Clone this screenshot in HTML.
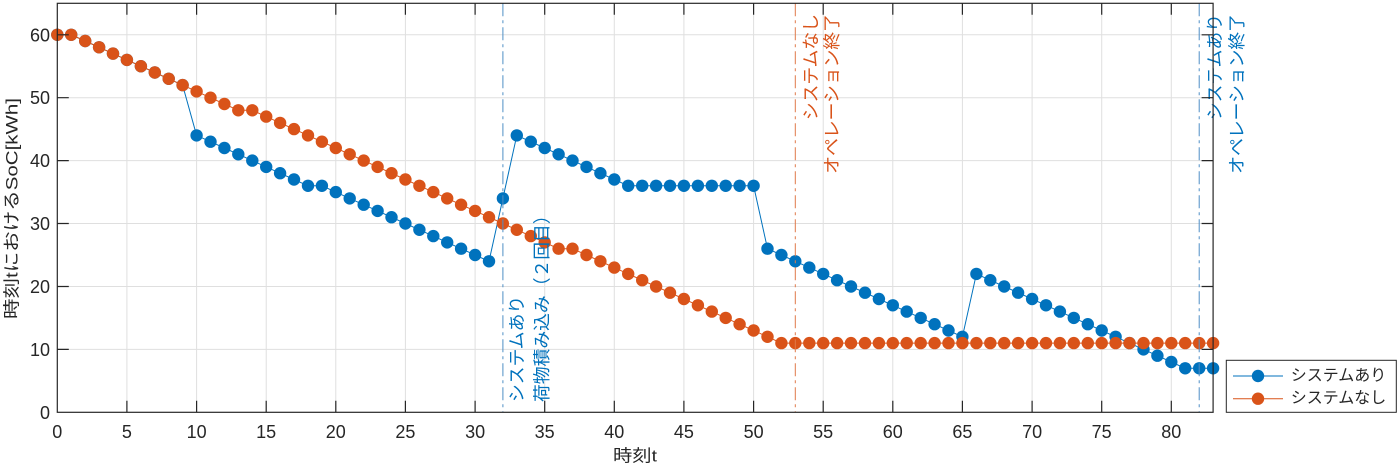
<!DOCTYPE html>
<html><head><meta charset="utf-8">
<style>
html,body{margin:0;padding:0;background:#fff;}
svg{display:block;}
text{font-family:"Liberation Sans","Noto Sans CJK JP",sans-serif;fill:#262626;}
</style></head>
<body>
<svg width="1398" height="465" viewBox="0 0 1398 465" xmlns="http://www.w3.org/2000/svg">
<rect x="0" y="0" width="1398" height="465" fill="#fff"/>
<rect x="57.3" y="3.3" width="1155.8" height="409" fill="#fff"/>
<!-- grid -->
<g stroke="#dfdfdf" stroke-width="1">
<line x1="126.9" y1="3.3" x2="126.9" y2="412.3"/><line x1="196.6" y1="3.3" x2="196.6" y2="412.3"/>
<line x1="266.2" y1="3.3" x2="266.2" y2="412.3"/><line x1="335.8" y1="3.3" x2="335.8" y2="412.3"/>
<line x1="405.4" y1="3.3" x2="405.4" y2="412.3"/><line x1="475.1" y1="3.3" x2="475.1" y2="412.3"/>
<line x1="544.7" y1="3.3" x2="544.7" y2="412.3"/><line x1="614.3" y1="3.3" x2="614.3" y2="412.3"/>
<line x1="683.9" y1="3.3" x2="683.9" y2="412.3"/><line x1="753.6" y1="3.3" x2="753.6" y2="412.3"/>
<line x1="823.2" y1="3.3" x2="823.2" y2="412.3"/><line x1="892.8" y1="3.3" x2="892.8" y2="412.3"/>
<line x1="962.4" y1="3.3" x2="962.4" y2="412.3"/><line x1="1032.1" y1="3.3" x2="1032.1" y2="412.3"/>
<line x1="1101.7" y1="3.3" x2="1101.7" y2="412.3"/><line x1="1171.3" y1="3.3" x2="1171.3" y2="412.3"/>
<line x1="57.3" y1="349.4" x2="1213.1" y2="349.4"/><line x1="57.3" y1="286.5" x2="1213.1" y2="286.5"/>
<line x1="57.3" y1="223.5" x2="1213.1" y2="223.5"/><line x1="57.3" y1="160.6" x2="1213.1" y2="160.6"/>
<line x1="57.3" y1="97.7" x2="1213.1" y2="97.7"/><line x1="57.3" y1="34.8" x2="1213.1" y2="34.8"/>
</g>

<!-- blue series -->
<polyline fill="none" stroke="#0072BD" stroke-width="1" points="57.3,34.8 71.2,34.8 85.2,41.0 99.1,47.3 113.0,53.6 126.9,59.9 140.9,66.2 154.8,72.5 168.7,78.8 182.6,85.1 196.6,135.4 210.5,141.7 224.4,148.0 238.3,154.3 252.3,160.6 266.2,166.9 280.1,173.2 294.0,179.5 308.0,185.8 321.9,185.8 335.8,192.1 349.7,198.4 363.7,204.7 377.6,210.9 391.5,217.2 405.4,223.5 419.4,229.8 433.3,236.1 447.2,242.4 461.1,248.7 475.1,255.0 489.0,261.3 502.9,198.4 516.8,135.4 530.8,141.7 544.7,148.0 558.6,154.3 572.5,160.6 586.5,166.9 600.4,173.2 614.3,179.5 628.2,185.8 642.2,185.8 656.1,185.8 670.0,185.8 683.9,185.8 697.9,185.8 711.8,185.8 725.7,185.8 739.6,185.8 753.6,185.8 767.5,248.7 781.4,255.0 795.3,261.3 809.3,267.6 823.2,273.9 837.1,280.2 851.0,286.5 865.0,292.7 878.9,299.0 892.8,305.3 906.7,311.6 920.7,317.9 934.6,324.2 948.5,330.5 962.4,336.8 976.4,273.9 990.3,280.2 1004.2,286.5 1018.1,292.7 1032.1,299.0 1046.0,305.3 1059.9,311.6 1073.8,317.9 1087.8,324.2 1101.7,330.5 1115.6,336.8 1129.5,343.1 1143.5,349.4 1157.4,355.7 1171.3,362.0 1185.2,368.3 1199.2,368.3 1213.1,368.3"/>
<g fill="#0072BD">
<circle cx="57.3" cy="34.8" r="6.2"/><circle cx="71.2" cy="34.8" r="6.2"/><circle cx="85.2" cy="41.0" r="6.2"/><circle cx="99.1" cy="47.3" r="6.2"/><circle cx="113.0" cy="53.6" r="6.2"/><circle cx="126.9" cy="59.9" r="6.2"/><circle cx="140.9" cy="66.2" r="6.2"/><circle cx="154.8" cy="72.5" r="6.2"/><circle cx="168.7" cy="78.8" r="6.2"/><circle cx="182.6" cy="85.1" r="6.2"/>
<circle cx="196.6" cy="135.4" r="6.2"/><circle cx="210.5" cy="141.7" r="6.2"/><circle cx="224.4" cy="148.0" r="6.2"/><circle cx="238.3" cy="154.3" r="6.2"/><circle cx="252.3" cy="160.6" r="6.2"/><circle cx="266.2" cy="166.9" r="6.2"/><circle cx="280.1" cy="173.2" r="6.2"/><circle cx="294.0" cy="179.5" r="6.2"/><circle cx="308.0" cy="185.8" r="6.2"/><circle cx="321.9" cy="185.8" r="6.2"/>
<circle cx="335.8" cy="192.1" r="6.2"/><circle cx="349.7" cy="198.4" r="6.2"/><circle cx="363.7" cy="204.7" r="6.2"/><circle cx="377.6" cy="210.9" r="6.2"/><circle cx="391.5" cy="217.2" r="6.2"/><circle cx="405.4" cy="223.5" r="6.2"/><circle cx="419.4" cy="229.8" r="6.2"/><circle cx="433.3" cy="236.1" r="6.2"/><circle cx="447.2" cy="242.4" r="6.2"/><circle cx="461.1" cy="248.7" r="6.2"/>
<circle cx="475.1" cy="255.0" r="6.2"/><circle cx="489.0" cy="261.3" r="6.2"/><circle cx="502.9" cy="198.4" r="6.2"/><circle cx="516.8" cy="135.4" r="6.2"/><circle cx="530.8" cy="141.7" r="6.2"/><circle cx="544.7" cy="148.0" r="6.2"/><circle cx="558.6" cy="154.3" r="6.2"/><circle cx="572.5" cy="160.6" r="6.2"/><circle cx="586.5" cy="166.9" r="6.2"/><circle cx="600.4" cy="173.2" r="6.2"/>
<circle cx="614.3" cy="179.5" r="6.2"/><circle cx="628.2" cy="185.8" r="6.2"/><circle cx="642.2" cy="185.8" r="6.2"/><circle cx="656.1" cy="185.8" r="6.2"/><circle cx="670.0" cy="185.8" r="6.2"/><circle cx="683.9" cy="185.8" r="6.2"/><circle cx="697.9" cy="185.8" r="6.2"/><circle cx="711.8" cy="185.8" r="6.2"/><circle cx="725.7" cy="185.8" r="6.2"/><circle cx="739.6" cy="185.8" r="6.2"/>
<circle cx="753.6" cy="185.8" r="6.2"/><circle cx="767.5" cy="248.7" r="6.2"/><circle cx="781.4" cy="255.0" r="6.2"/><circle cx="795.3" cy="261.3" r="6.2"/><circle cx="809.3" cy="267.6" r="6.2"/><circle cx="823.2" cy="273.9" r="6.2"/><circle cx="837.1" cy="280.2" r="6.2"/><circle cx="851.0" cy="286.5" r="6.2"/><circle cx="865.0" cy="292.7" r="6.2"/><circle cx="878.9" cy="299.0" r="6.2"/>
<circle cx="892.8" cy="305.3" r="6.2"/><circle cx="906.7" cy="311.6" r="6.2"/><circle cx="920.7" cy="317.9" r="6.2"/><circle cx="934.6" cy="324.2" r="6.2"/><circle cx="948.5" cy="330.5" r="6.2"/><circle cx="962.4" cy="336.8" r="6.2"/><circle cx="976.4" cy="273.9" r="6.2"/><circle cx="990.3" cy="280.2" r="6.2"/><circle cx="1004.2" cy="286.5" r="6.2"/><circle cx="1018.1" cy="292.7" r="6.2"/>
<circle cx="1032.1" cy="299.0" r="6.2"/><circle cx="1046.0" cy="305.3" r="6.2"/><circle cx="1059.9" cy="311.6" r="6.2"/><circle cx="1073.8" cy="317.9" r="6.2"/><circle cx="1087.8" cy="324.2" r="6.2"/><circle cx="1101.7" cy="330.5" r="6.2"/><circle cx="1115.6" cy="336.8" r="6.2"/><circle cx="1129.5" cy="343.1" r="6.2"/><circle cx="1143.5" cy="349.4" r="6.2"/><circle cx="1157.4" cy="355.7" r="6.2"/>
<circle cx="1171.3" cy="362.0" r="6.2"/><circle cx="1185.2" cy="368.3" r="6.2"/><circle cx="1199.2" cy="368.3" r="6.2"/><circle cx="1213.1" cy="368.3" r="6.2"/>
</g>

<!-- orange series -->
<polyline fill="none" stroke="#D95319" stroke-width="1" points="57.3,34.8 71.2,34.8 85.2,41.0 99.1,47.3 113.0,53.6 126.9,59.9 140.9,66.2 154.8,72.5 168.7,78.8 182.6,85.1 196.6,91.4 210.5,97.7 224.4,104.0 238.3,110.3 252.3,110.3 266.2,116.6 280.1,122.9 294.0,129.1 308.0,135.4 321.9,141.7 335.8,148.0 349.7,154.3 363.7,160.6 377.6,166.9 391.5,173.2 405.4,179.5 419.4,185.8 433.3,192.1 447.2,198.4 461.1,204.7 475.1,210.9 489.0,217.2 502.9,223.5 516.8,229.8 530.8,236.1 544.7,242.4 558.6,248.7 572.5,248.7 586.5,255.0 600.4,261.3 614.3,267.6 628.2,273.9 642.2,280.2 656.1,286.5 670.0,292.7 683.9,299.0 697.9,305.3 711.8,311.6 725.7,317.9 739.6,324.2 753.6,330.5 767.5,336.8 781.4,343.1 1213.1,343.1"/>
<g fill="#D95319">
<circle cx="57.3" cy="34.8" r="6.2"/><circle cx="71.2" cy="34.8" r="6.2"/><circle cx="85.2" cy="41.0" r="6.2"/><circle cx="99.1" cy="47.3" r="6.2"/><circle cx="113.0" cy="53.6" r="6.2"/><circle cx="126.9" cy="59.9" r="6.2"/><circle cx="140.9" cy="66.2" r="6.2"/><circle cx="154.8" cy="72.5" r="6.2"/><circle cx="168.7" cy="78.8" r="6.2"/><circle cx="182.6" cy="85.1" r="6.2"/>
<circle cx="196.6" cy="91.4" r="6.2"/><circle cx="210.5" cy="97.7" r="6.2"/><circle cx="224.4" cy="104.0" r="6.2"/><circle cx="238.3" cy="110.3" r="6.2"/><circle cx="252.3" cy="110.3" r="6.2"/><circle cx="266.2" cy="116.6" r="6.2"/><circle cx="280.1" cy="122.9" r="6.2"/><circle cx="294.0" cy="129.1" r="6.2"/><circle cx="308.0" cy="135.4" r="6.2"/><circle cx="321.9" cy="141.7" r="6.2"/>
<circle cx="335.8" cy="148.0" r="6.2"/><circle cx="349.7" cy="154.3" r="6.2"/><circle cx="363.7" cy="160.6" r="6.2"/><circle cx="377.6" cy="166.9" r="6.2"/><circle cx="391.5" cy="173.2" r="6.2"/><circle cx="405.4" cy="179.5" r="6.2"/><circle cx="419.4" cy="185.8" r="6.2"/><circle cx="433.3" cy="192.1" r="6.2"/><circle cx="447.2" cy="198.4" r="6.2"/><circle cx="461.1" cy="204.7" r="6.2"/>
<circle cx="475.1" cy="210.9" r="6.2"/><circle cx="489.0" cy="217.2" r="6.2"/><circle cx="502.9" cy="223.5" r="6.2"/><circle cx="516.8" cy="229.8" r="6.2"/><circle cx="530.8" cy="236.1" r="6.2"/><circle cx="544.7" cy="242.4" r="6.2"/><circle cx="558.6" cy="248.7" r="6.2"/><circle cx="572.5" cy="248.7" r="6.2"/><circle cx="586.5" cy="255.0" r="6.2"/><circle cx="600.4" cy="261.3" r="6.2"/>
<circle cx="614.3" cy="267.6" r="6.2"/><circle cx="628.2" cy="273.9" r="6.2"/><circle cx="642.2" cy="280.2" r="6.2"/><circle cx="656.1" cy="286.5" r="6.2"/><circle cx="670.0" cy="292.7" r="6.2"/><circle cx="683.9" cy="299.0" r="6.2"/><circle cx="697.9" cy="305.3" r="6.2"/><circle cx="711.8" cy="311.6" r="6.2"/><circle cx="725.7" cy="317.9" r="6.2"/><circle cx="739.6" cy="324.2" r="6.2"/>
<circle cx="753.6" cy="330.5" r="6.2"/><circle cx="767.5" cy="336.8" r="6.2"/><circle cx="781.4" cy="343.1" r="6.2"/><circle cx="795.3" cy="343.1" r="6.2"/><circle cx="809.3" cy="343.1" r="6.2"/><circle cx="823.2" cy="343.1" r="6.2"/><circle cx="837.1" cy="343.1" r="6.2"/><circle cx="851.0" cy="343.1" r="6.2"/><circle cx="865.0" cy="343.1" r="6.2"/><circle cx="878.9" cy="343.1" r="6.2"/>
<circle cx="892.8" cy="343.1" r="6.2"/><circle cx="906.7" cy="343.1" r="6.2"/><circle cx="920.7" cy="343.1" r="6.2"/><circle cx="934.6" cy="343.1" r="6.2"/><circle cx="948.5" cy="343.1" r="6.2"/><circle cx="962.4" cy="343.1" r="6.2"/><circle cx="976.4" cy="343.1" r="6.2"/><circle cx="990.3" cy="343.1" r="6.2"/><circle cx="1004.2" cy="343.1" r="6.2"/><circle cx="1018.1" cy="343.1" r="6.2"/>
<circle cx="1032.1" cy="343.1" r="6.2"/><circle cx="1046.0" cy="343.1" r="6.2"/><circle cx="1059.9" cy="343.1" r="6.2"/><circle cx="1073.8" cy="343.1" r="6.2"/><circle cx="1087.8" cy="343.1" r="6.2"/><circle cx="1101.7" cy="343.1" r="6.2"/><circle cx="1115.6" cy="343.1" r="6.2"/><circle cx="1129.5" cy="343.1" r="6.2"/><circle cx="1143.5" cy="343.1" r="6.2"/><circle cx="1157.4" cy="343.1" r="6.2"/>
<circle cx="1171.3" cy="343.1" r="6.2"/><circle cx="1185.2" cy="343.1" r="6.2"/><circle cx="1199.2" cy="343.1" r="6.2"/><circle cx="1213.1" cy="343.1" r="6.2"/>
</g>

<!-- vertical dash-dot lines -->
<g stroke-width="1" stroke-dasharray="13 4 3 4">
<line x1="502.9" y1="3.3" x2="502.9" y2="412.3" stroke="#4f8fc6"/>
<line x1="795.3" y1="3.3" x2="795.3" y2="412.3" stroke="#e07a4a"/>
<line x1="1199.2" y1="3.3" x2="1199.2" y2="412.3" stroke="#4f8fc6"/>
</g>

<!-- annotations -->
<g font-size="17.8" dominant-baseline="central">
<text x="517" y="402" transform="rotate(-90 517 402)" style="fill:#0072BD" text-anchor="start">システムあり</text>
<text x="542" y="402" transform="rotate(-90 542 402)" style="fill:#0072BD" text-anchor="start">荷物積み込み（２回目）</text>
<text x="811" y="14" transform="rotate(-90 811 14)" style="fill:#D95319" text-anchor="end">システムなし</text>
<text x="832" y="14" transform="rotate(-90 832 14)" style="fill:#D95319" text-anchor="end">オペレーション終了</text>
<text x="1215" y="14" transform="rotate(-90 1215 14)" style="fill:#0072BD" text-anchor="end">システムあり</text>
<text x="1237" y="14" transform="rotate(-90 1237 14)" style="fill:#0072BD" text-anchor="end">オペレーション終了</text>
</g>

<!-- axes box -->
<rect x="57.3" y="3.3" width="1155.8" height="409" fill="none" stroke="#262626" stroke-width="1.2"/>
<!-- ticks -->
<g stroke="#262626" stroke-width="1.2">
<path d="M126.9 412.3v-11.5M196.6 412.3v-11.5M266.2 412.3v-11.5M335.8 412.3v-11.5M405.4 412.3v-11.5M475.1 412.3v-11.5M544.7 412.3v-11.5M614.3 412.3v-11.5M683.9 412.3v-11.5M753.6 412.3v-11.5M823.2 412.3v-11.5M892.8 412.3v-11.5M962.4 412.3v-11.5M1032.1 412.3v-11.5M1101.7 412.3v-11.5M1171.3 412.3v-11.5"/>
<path d="M126.9 3.3v11.5M196.6 3.3v11.5M266.2 3.3v11.5M335.8 3.3v11.5M405.4 3.3v11.5M475.1 3.3v11.5M544.7 3.3v11.5M614.3 3.3v11.5M683.9 3.3v11.5M753.6 3.3v11.5M823.2 3.3v11.5M892.8 3.3v11.5M962.4 3.3v11.5M1032.1 3.3v11.5M1101.7 3.3v11.5M1171.3 3.3v11.5"/>
<path d="M57.3 349.4h11.5M57.3 286.5h11.5M57.3 223.5h11.5M57.3 160.6h11.5M57.3 97.7h11.5M57.3 34.8h11.5"/>
<path d="M1213.1 349.4h-11.5M1213.1 286.5h-11.5M1213.1 223.5h-11.5M1213.1 160.6h-11.5M1213.1 97.7h-11.5M1213.1 34.8h-11.5"/>
</g>

<!-- x tick labels -->
<g font-size="18" text-anchor="middle">
<text x="57.3" y="438">0</text><text x="126.9" y="438">5</text>
<text x="196.6" y="438">10</text><text x="266.2" y="438">15</text>
<text x="335.8" y="438">20</text><text x="405.4" y="438">25</text>
<text x="475.1" y="438">30</text><text x="544.7" y="438">35</text>
<text x="614.3" y="438">40</text><text x="683.9" y="438">45</text>
<text x="753.6" y="438">50</text><text x="823.2" y="438">55</text>
<text x="892.8" y="438">60</text><text x="962.4" y="438">65</text>
<text x="1032.1" y="438">70</text><text x="1101.7" y="438">75</text>
<text x="1171.3" y="438">80</text>
</g>
<!-- y tick labels -->
<g font-size="18" text-anchor="end">
<text x="50" y="418.8">0</text>
<text x="50" y="355.9">10</text>
<text x="50" y="293">20</text>
<text x="50" y="230">30</text>
<text x="50" y="167.1">40</text>
<text x="50" y="104.2">50</text>
<text x="50" y="41.3">60</text>
</g>

<!-- axis labels -->
<text x="635" y="456" font-size="17" text-anchor="middle" dominant-baseline="central" textLength="44" lengthAdjust="spacingAndGlyphs">時刻t</text>
<text x="12" y="208.5" transform="rotate(-90 12 208.5)" font-size="17" text-anchor="middle" dominant-baseline="central" textLength="221" lengthAdjust="spacingAndGlyphs">時刻tにおけるSoC[kWh]</text>

<!-- legend -->
<rect x="1226.3" y="360.3" width="170" height="52" fill="#fff" stroke="#262626" stroke-width="1"/>
<line x1="1233" y1="376" x2="1283" y2="376" stroke="#0072BD" stroke-width="1"/>
<circle cx="1258" cy="376" r="6.2" fill="#0072BD"/>
<line x1="1233" y1="398.7" x2="1283" y2="398.7" stroke="#D95319" stroke-width="1"/>
<circle cx="1258" cy="398.7" r="6.2" fill="#D95319"/>
<g font-size="16" dominant-baseline="central">
<text x="1290.7" y="376">システムあり</text>
<text x="1290.7" y="398.7">システムなし</text>
</g>
</svg>
</body></html>
